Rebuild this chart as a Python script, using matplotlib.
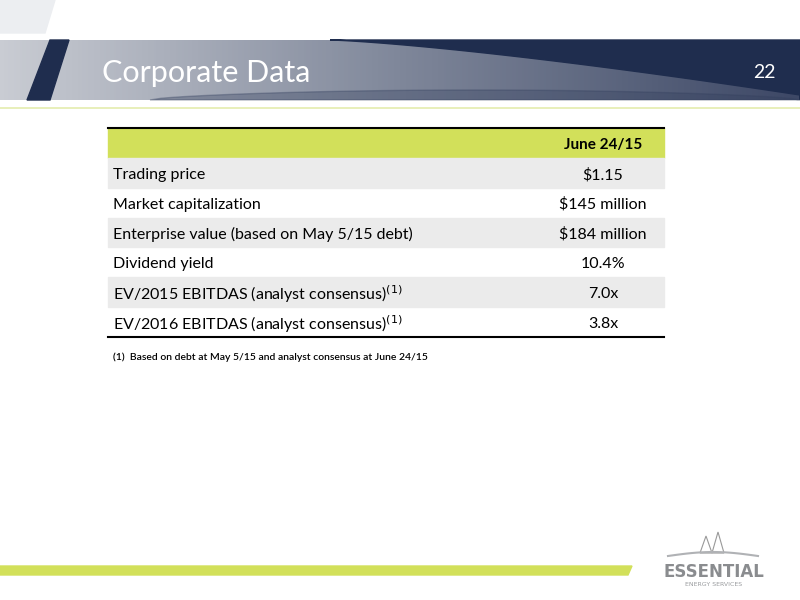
import numpy as np
import matplotlib
matplotlib.use('Agg')
import matplotlib.pyplot as plt
from matplotlib.patches import Polygon, Rectangle

row_labels = ["Trading price", "Market capitalization",
              "Enterprise value (based on May 5/15 debt)", "Dividend yield",
              "EV/2015 EBITDAS (analyst consensus)$^{(1)}$",
              "EV/2016 EBITDAS (analyst consensus)$^{(1)}$"]
row_values = ["$1.15", "$145 million", "$184 million", "10.4%", "7.0x", "3.8x"]
col_header = "June 24/15"
footnote = "(1)  Based on debt at May 5/15 and analyst consensus at June 24/15"

NAVY = '#1f2d4e'
LIME = '#d2e05a'
plt.rcParams['font.family'] = ['Lato', 'DejaVu Sans']

fig = plt.figure(figsize=(8, 6), dpi=100)
ax = fig.add_axes([0, 0, 1, 1])
ax.set_xlim(0, 800)
ax.set_ylim(600, 0)
ax.axis('off')

# banner gradient
grad = np.linspace(0, 1, 400)[None, :]
cmap = matplotlib.colors.LinearSegmentedColormap.from_list('b', ['#c9ccd3', '#7f879a', '#3d4866'])
ax.imshow(grad, cmap=cmap, extent=(0, 800, 100, 40), aspect='auto', zorder=1)
ax.add_patch(Polygon([(0, 0), (55, 0), (45, 33), (0, 33)], color='#eceef1', zorder=1))
# dark right region with curved edge
xs = np.linspace(330, 800, 60)
ys = 40 + 55 * ((xs - 330) / 470) ** 1.3
ax.add_patch(Polygon([(330, 40), (800, 40), (800, 100)] + list(zip(xs[::-1], ys[::-1])),
                     color=NAVY, zorder=2))
xb = np.linspace(150, 800, 60)
yb = 100 - 10 * np.sin(np.pi * (xb - 150) / 650) ** 0.6
ax.add_patch(Polygon(list(zip(xb, yb)) + [(800, 100), (150, 100)], color='#34405e', alpha=0.35, zorder=2))
ax.add_patch(Polygon([(50, 40), (69, 40), (50, 100), (27, 100)], color=NAVY, zorder=3))
ax.plot([0, 800], [108, 108], color='#e4ecae', lw=1.2, zorder=3)
ax.text(102, 73, "Corporate Data", color='white', fontsize=22, va='center', zorder=4)
ax.text(776, 73, "22", color='white', fontsize=14, ha='right', va='center', zorder=4)

# table
x0, x1, vx = 108, 664, 603
top, hh, rh = 128, 30, 29.8
ax.add_patch(Rectangle((x0, top), x1 - x0, hh, color=LIME, zorder=1))
ax.text(vx, top + hh / 2 + 2, col_header, fontsize=11, fontweight='bold', ha='center', va='center')
for i, (lab, val) in enumerate(zip(row_labels, row_values)):
    y = top + hh + i * rh
    if i % 2 == 0:
        ax.add_patch(Rectangle((x0, y), x1 - x0, rh, color='#ebebeb', zorder=1))
    ax.text(x0 + 5, y + rh / 2 + 2, lab, fontsize=11.5, va='center')
    ax.text(vx, y + rh / 2 + 2, val, fontsize=11.5, ha='center', va='center')
bot = top + hh + len(row_labels) * rh
ax.plot([x0, x1], [top, top], color='black', lw=1.5)
ax.plot([x0, x1], [bot, bot], color='black', lw=1.5)
ax.text(113, 357, footnote, fontsize=7.5, va='center', fontweight='semibold')

# bottom bar and logo
ax.add_patch(Polygon([(0, 566), (632, 566), (628, 575), (0, 575)], color=LIME))
ax.text(714, 572, "ESSENTIAL", color='#8a8c8f', fontsize=12, fontweight='bold', ha='center', va='center',
        family='DejaVu Sans')
ax.text(714, 585, "ENERGY SERVICES", color='#9a9c9f', fontsize=4.5, ha='center', va='center',
        family='DejaVu Sans')
ax.plot(np.linspace(668, 758, 20), 556 - 4 * np.sin(np.linspace(0, np.pi, 20)), color='#b0b2b5', lw=1.5)
ax.add_patch(Polygon([(700, 553), (706, 536), (712, 553)], fill=False, ec='#999', lw=0.8))
ax.add_patch(Polygon([(712, 553), (718, 532), (724, 553)], fill=False, ec='#999', lw=0.8))

fig.savefig('out.png', dpi=100)
